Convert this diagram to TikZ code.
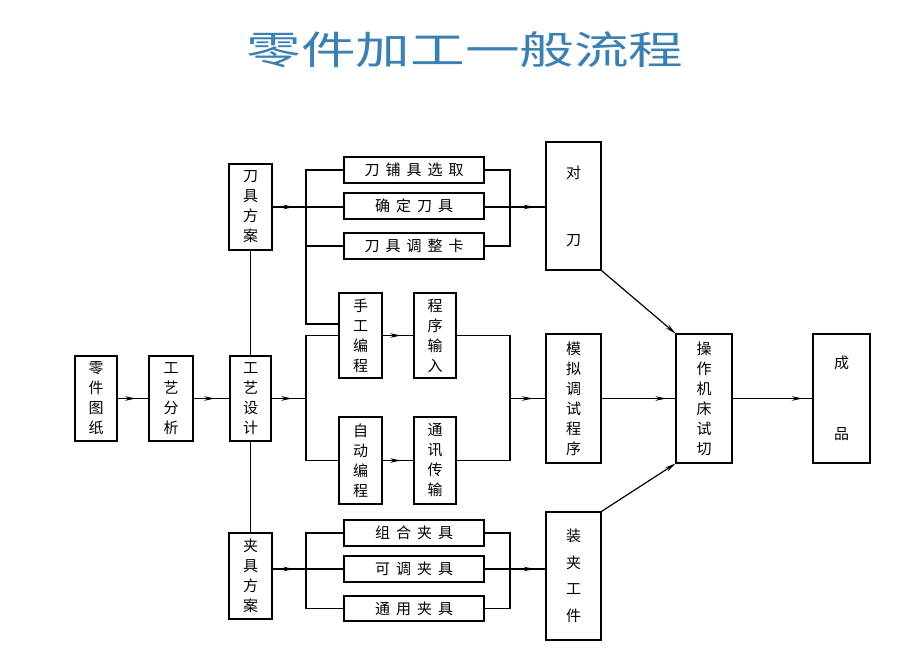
\documentclass[tikz,border=0pt]{standalone}
\usepackage{fontspec}
\newfontfamily\cjk{Noto Sans CJK SC}
\usetikzlibrary{arrows.meta,decorations.markings,calc}
\definecolor{titleblue}{RGB}{60,128,178}
\newcommand{\gp}{\hspace{6pt}}
\tikzset{
  box/.style={draw, line width=1.4pt, inner sep=0pt, font=\cjk\fontsize{15}{20}\selectfont, align=center},
  vbox/.style={box, minimum width=43pt, minimum height=85pt},
  tallbox/.style={box, minimum width=55pt, minimum height=129pt},
  hbox/.style={box, minimum width=140pt, minimum height=26pt},
  conn/.style={line width=1.2pt},
  flow/.style={line width=1.2pt, postaction={decorate}, decoration={markings, mark=at position #1 with {\arrow{Stealth[length=11pt,width=4.5pt]}}}},
  flow/.default=0.6,
  tipflow/.style={line width=1.2pt, -{Stealth[length=11pt,width=4.5pt]}, shorten >=-0.5pt},
}
\begin{document}
\begin{tikzpicture}[x=1pt,y=-1pt]
\fill[white] (0,0) rectangle (916,672);
\useasboundingbox (0,0) rectangle (916,672);

\node[font=\cjk\fontsize{39}{40}\selectfont, text=titleblue] (title) at (465,50) {\scalebox{1.4}[1]{零件加工一般流程}};

% left chain
\node[vbox, minimum width=42pt] (zt) at (96,398.5) {零\\件\\图\\纸};
\node[vbox, minimum width=44pt] (gf) at (171,398.5) {工\\艺\\分\\析};
\node[vbox, minimum width=41pt] (gs) at (250.5,398.5) {工\\艺\\设\\计};
\node[vbox, minimum height=86pt] (dj) at (250.5,207) {刀\\具\\方\\案};
\node[vbox, minimum height=86pt] (jj) at (250.5,576) {夹\\具\\方\\案};

% tool options
\node[hbox] (t1) at (414,170) {刀\gp 铺\gp 具\gp 选\gp 取};
\node[hbox] (t2) at (414,206) {确\gp 定\gp 刀\gp 具};
\node[hbox] (t3) at (414,246) {刀\gp 具\gp 调\gp 整\gp 卡};

% jig options
\node[hbox] (j1) at (414,533) {组\gp 合\gp 夹\gp 具};
\node[hbox] (j2) at (414,569) {可\gp 调\gp 夹\gp 具};
\node[hbox, minimum height=25pt] (j3) at (414,608.5) {通\gp 用\gp 夹\gp 具};

% programming
\node[vbox] (sg) at (360.5,335.5) {手\\工\\编\\程};
\node[vbox, minimum width=42pt] (cx) at (435,335.5) {程\\序\\输\\入};
\node[vbox, minimum height=87pt] (zd) at (360.5,460.5) {自\\动\\编\\程};
\node[vbox, minimum width=42pt, minimum height=87pt] (tx) at (435,460.5) {通\\讯\\传\\输};

% right column
\node[tallbox, minimum height=128pt] (dd) at (573.5,206) {对\\[47pt]刀};
\node[tallbox] (mn) at (573.5,398.5) {模\\拟\\调\\试\\程\\序};
\node[tallbox, minimum height=128pt] (zj) at (573.5,576) {装\\[6.5pt]夹\\[6.5pt]工\\[6.5pt]件};
\node[tallbox, minimum width=56pt] (cz) at (704,398.5) {操\\作\\机\\床\\试\\切};
\node[tallbox, minimum width=57pt] (cp) at (841.5,398.5) {成\\[51pt]品};

% coordinates
\coordinate (tL) at (306,207);
\coordinate (tR) at (510,207);
\coordinate (kL) at (306,324);
\coordinate (mL) at (306,398.5);
\coordinate (mR) at (510,398.5);
\coordinate (jL) at (306,569);
\coordinate (jR) at (510,569);

% main chain
\draw[flow=0.6] (zt) -- (gf);
\draw[flow=0.6] (gf) -- (gs);
\draw[conn] (gs.north) -- (dj.south);
\draw[conn] (gs.south) -- (jj.north);

% tool bracket
\draw[flow=0.65] (dj.east |- tL) -- (tL);
\draw[conn] (t1.west) -| (kL) -- (sg.west |- kL);
\draw[conn] (tL) -- (t2.west |- tL);
\draw[conn] (t3.west) -- (t3.west -| tL);
\draw[conn] (t1.east) -| (tR) |- (t3.east);
\draw[conn] (t2.east |- tR) -- (tR);
\draw[flow=0.7] (tR) -- (dd.west |- tR);

% programming bracket
\draw[flow=0.6] (gs.east |- mL) -- (mL);
\draw[conn] (sg.west) -| (mL) |- (zd.west);
\draw[flow=0.6] (sg) -- (cx);
\draw[flow=0.6] (zd) -- (tx);
\draw[conn] (cx.east) -| (mR) |- (tx.east);
\draw[flow=0.65] (mR) -- (mn.west |- mR);

% jig bracket
\draw[flow=0.65] (jj.east |- jL) -- (jL);
\draw[conn] (j1.west) -| (jL) |- (j3.west);
\draw[conn] (jL) -- (j2.west);
\draw[conn] (j1.east) -| (jR) |- (j3.east);
\draw[conn] (j2.east) -- (jR);
\draw[flow=0.7] (jR) -- (zj.west |- jR);

% to machine
\draw[tipflow] (dd.south east) -- (cz.north west);
\draw[tipflow] (zj.north east) -- (cz.south west);
\draw[flow=0.88] (mn) -- (cz);
\draw[flow=0.88] (cz) -- (cp);
\end{tikzpicture}
\end{document}
